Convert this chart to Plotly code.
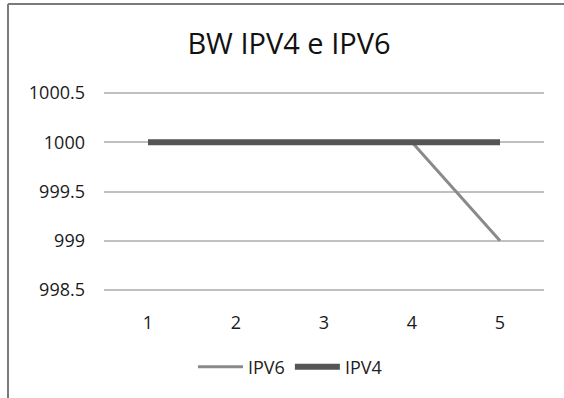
import plotly.graph_objects as go

categories = [1, 2, 3, 4, 5]
ipv6 = [1000, 1000, 1000, 1000, 999]
ipv4 = [1000, 1000, 1000, 1000, 1000]
y_ticks = [998.5, 999, 999.5, 1000, 1000.5]
y_tick_text = ["998.5", "999", "999.5", "1000", "1000.5"]

W, H = 564, 398
L, R, T, B = 104, 20, 91, 106
pw, ph = W - L - R, H - T - B

def px_x(x):
    return (x - L) / pw

def px_y(y):
    return (H - B - y) / ph

fig = go.Figure()
fig.add_trace(go.Scatter(x=categories, y=ipv6, mode="lines", name="IPV6",
                         line=dict(color="#8a8a8a", width=3)))
fig.add_trace(go.Scatter(x=categories, y=ipv4, mode="lines", name="IPV4",
                         line=dict(color="#555555", width=6)))

font = "Open Sans, Liberation Sans, sans-serif"
fig.update_layout(
    width=W, height=H,
    margin=dict(l=L, r=R, t=T, b=B),
    paper_bgcolor="white", plot_bgcolor="white",
    font=dict(family=font, size=18, color="#222222"),
    title=dict(text="BW IPV4 e IPV6", x=289 / W, xanchor="center",
               y=1 - 44 / H, yanchor="middle",
               font=dict(size=29, color="#111111", family=font)),
    showlegend=True,
    legend=dict(orientation="h", x=px_x(290), xanchor="center",
                yref="container", y=1 - 367 / H, yanchor="middle",
                font=dict(size=18, color="#222222"), itemwidth=45,
                bgcolor="rgba(0,0,0,0)"),
    xaxis=dict(range=[0.5, 5.5], tickvals=categories, ticktext=[str(c) for c in categories],
               showgrid=False, showline=False, zeroline=False, ticks="",
               ticklabelstandoff=18,
               tickfont=dict(size=18, color="#1a1a1a")),
    yaxis=dict(range=[998.48, 1000.52], tickvals=y_ticks, ticktext=y_tick_text,
               showgrid=True, gridcolor="#c0c0c0", gridwidth=2, zeroline=False,
               showline=False, ticks="", ticklabelstandoff=18,
               tickfont=dict(size=18, color="#1a1a1a")),
    shapes=[
        dict(type="line", xref="paper", yref="paper",
             x0=px_x(8), x1=px_x(564), y0=px_y(4), y1=px_y(4),
             line=dict(color="#7a7a7a", width=2)),
        dict(type="line", xref="paper", yref="paper",
             x0=px_x(8), x1=px_x(8), y0=px_y(4), y1=px_y(398),
             line=dict(color="#7a7a7a", width=2)),
    ],
)

fig.write_html("out.html")
